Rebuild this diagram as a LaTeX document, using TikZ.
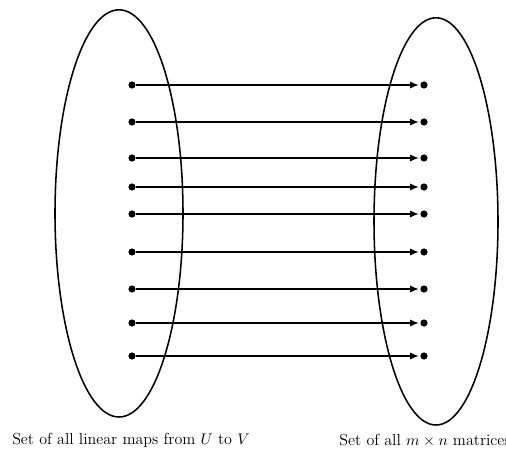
\documentclass[tikz,border=0pt]{standalone}
\usetikzlibrary{arrows.meta}
\tikzset{
  dot/.style={circle, fill=black, inner sep=0pt, minimum size=0.18cm},
  maparrow/.style={-{Latex[length=0.22cm,width=0.18cm]}, line width=1.1pt, shorten >=0.03cm},
  setlabel/.style={font=\fontsize{11.4}{13.5}\selectfont, inner sep=0pt}
}
\begin{document}
\begin{tikzpicture}
    \useasboundingbox (0,0) rectangle (12.65,11.425);
    % Ellipses
    \draw[line width=1.1pt] (2.975,6.09) ellipse [x radius=1.6, y radius=5.09];
    \draw[line width=1.1pt] (10.9,5.89) ellipse [x radius=1.55, y radius=5.09];
    % Arrows between the dots
    \foreach \i/\y in {1/9.3, 2/8.375, 3/7.475, 4/6.75, 5/6.075, 6/5.125, 7/4.2, 8/3.35, 9/2.525} {
        \node[dot] (src\i) at (3.3,\y) {};
        \node[dot] (dst\i) at (10.6,\y) {};
        \draw[maparrow] (src\i) -- (dst\i);
    }
    % Labels
    \node[setlabel, anchor=west] (domain) at (0.3,0.42) {Set of all linear maps from $U$ to $V$};
    \node[setlabel, anchor=west] (codomain) at (8.48,0.42) {Set of all $m\times n$ matrices};
\end{tikzpicture}
\end{document}
